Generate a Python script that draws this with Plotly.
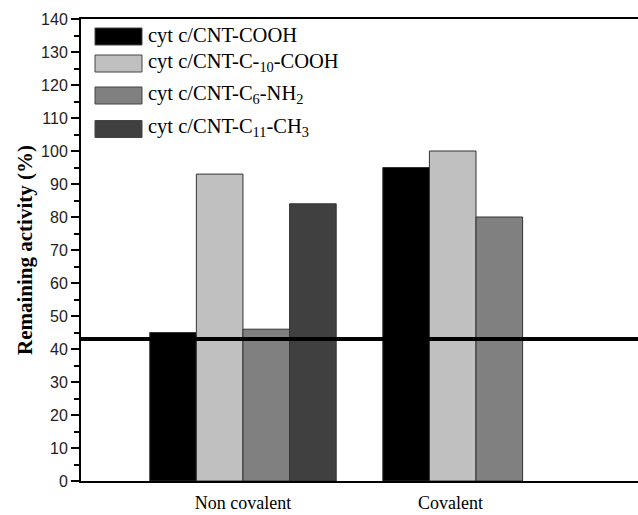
import plotly.graph_objects as go

groups = ["Non covalent", "Covalent"]
group_pos = [1, 2]
label_pos = [1, 1.89]
series_names = [
    "cyt c/CNT-COOH",
    "cyt c/CNT-C-<sub>10</sub>-COOH",
    "cyt c/CNT-C<sub>6</sub>-NH<sub>2</sub>",
    "cyt c/CNT-C<sub>11</sub>-CH<sub>3</sub>",
]
cooh = [45, 95]
c10_cooh = [93, 100]
c6_nh2 = [46, 80]
c11_ch3 = [84, None]
reference_level = 43
y_ticks = [0, 10, 20, 30, 40, 50, 60, 70, 80, 90, 100, 110, 120, 130, 140]

colors = ["#000000", "#c0c0c0", "#808080", "#404040"]
series = [cooh, c10_cooh, c6_nh2, c11_ch3]

fig = go.Figure()
for name, vals, col in zip(series_names, series, colors):
    fig.add_trace(go.Bar(
        x=group_pos, y=vals, name=name,
        marker=dict(color=col, line=dict(color="#333333", width=1)),
        showlegend=False,
    ))

fig.add_shape(type="line", xref="paper", yref="y", x0=0, x1=1,
              y0=reference_level, y1=reference_level,
              line=dict(color="black", width=4))

# custom legend with large swatches
leg_rows = [36.5, 63.5, 95.5, 129]
for name, col, yc in zip(series_names, colors, leg_rows):
    fig.add_shape(type="rect", xref="paper", yref="paper",
                  x0=(95 - 81) / 557, x1=(142 - 81) / 557,
                  y0=(481 - yc - 8.5) / 462, y1=(481 - yc + 8.5) / 462,
                  fillcolor=col, line=dict(color="#444444", width=1))
    fig.add_annotation(xref="paper", yref="paper", x=(146 - 81) / 557,
                       y=(481 - yc + 1) / 462, text=name, showarrow=False,
                       xanchor="left", yanchor="middle",
                       font=dict(family="Liberation Serif", size=20.5, color="black"))

fig.update_layout(
    width=638, height=515,
    margin=dict(l=81, r=0, t=19, b=34),
    paper_bgcolor="white", plot_bgcolor="white",
    barmode="group", bargap=0.2, bargroupgap=0,
    showlegend=False,
    xaxis=dict(range=[0.305, 2.695], tickvals=label_pos, ticktext=groups,
               ticks="", showline=True, linecolor="black", linewidth=2,
               mirror=True, showgrid=False, zeroline=False, automargin=False,
               ticklabelstandoff=4,
               tickfont=dict(family="Liberation Serif", size=18, color="black")),
    yaxis=dict(range=[0, 140], tickvals=y_ticks, ticks="outside", ticklen=8,
               tickwidth=2, tickcolor="black", automargin=False,
               minor=dict(dtick=5, ticks="outside", ticklen=5, tickwidth=2,
                          tickcolor="black", showgrid=False),
               showline=True, linecolor="black", linewidth=2, showgrid=False,
               zeroline=False,
               tickfont=dict(family="Liberation Sans", size=16, color="#222222"),
               title=dict(text="<b>Remaining activity (%)</b>", standoff=3,
                          font=dict(family="Liberation Serif", size=21, color="black"))),
)

fig.write_html("out.html", config={"displayModeBar": False},
               post_script="document.body.style.margin='0px';document.body.style.overflow='hidden';")
